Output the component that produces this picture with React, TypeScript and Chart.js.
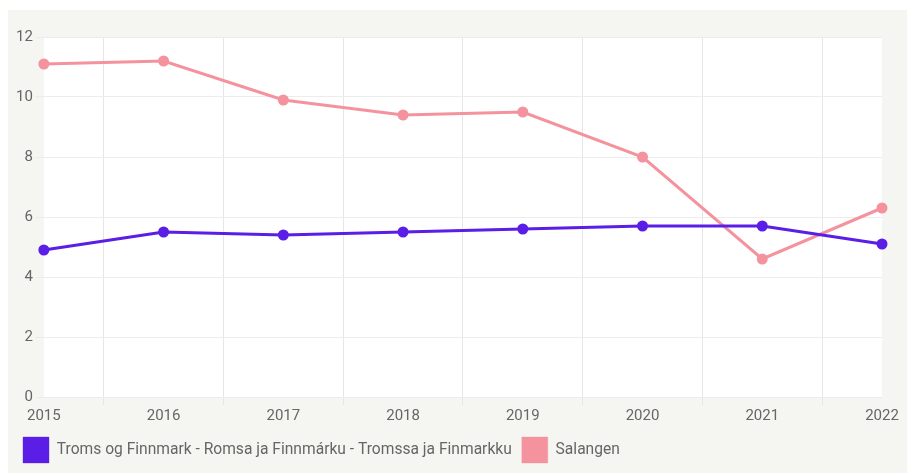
import React, { useEffect, useRef } from "react";
import { Chart, registerables } from "chart.js";

Chart.register(...registerables);

const years = ["2015", "2016", "2017", "2018", "2019", "2020", "2021", "2022"];
const tromsValues = [4.9, 5.5, 5.4, 5.5, 5.6, 5.7, 5.7, 5.1];
const salangenValues = [11.1, 11.2, 9.9, 9.4, 9.5, 8.0, 4.6, 6.3];
const seriesNames = ["Troms og Finnmark - Romsa ja Finnmárku - Tromssa ja Finmarkku", "Salangen"];

const plotBg = {
  id: "plotBg",
  beforeDraw(chart: any) {
    const { ctx, chartArea } = chart;
    ctx.save();
    ctx.fillStyle = "#ffffff";
    ctx.fillRect(chartArea.left, chartArea.top, chartArea.right - chartArea.left, chartArea.bottom - chartArea.top);
    ctx.restore();
  },
};

export default function App() {
  const ref = useRef<HTMLCanvasElement>(null);
  useEffect(() => {
    document.documentElement.style.overflow = "hidden";
    document.body.style.overflow = "hidden";
    if (!ref.current) return;
    const chart = new Chart(ref.current, {
      type: "line",
      data: {
        labels: years,
        datasets: [
          {
            label: seriesNames[0],
            data: tromsValues,
            borderColor: "#5a1ee6",
            backgroundColor: "#5a1ee6",
            pointBackgroundColor: "#5a1ee6",
            pointBorderColor: "#5a1ee6",
            borderWidth: 3,
            pointRadius: 4,
            tension: 0,
          },
          {
            label: seriesNames[1],
            data: salangenValues,
            borderColor: "#f4939e",
            backgroundColor: "#f4939e",
            pointBackgroundColor: "#f4939e",
            pointBorderColor: "#f4939e",
            borderWidth: 3,
            pointRadius: 4,
            tension: 0,
          },
        ],
      },
      options: {
        animation: false,
        responsive: true,
        maintainAspectRatio: false,
        layout: { padding: { top: 27, left: 5, right: 25, bottom: 0 } },
        plugins: {
          legend: {
            position: "bottom",
            align: "start",
            labels: {
              boxWidth: 26,
              boxHeight: 26,
              color: "#666666",
              font: { family: "Roboto", size: 15.6 },
              padding: 10,
              generateLabels: (c: any) =>
                c.data.datasets.map((d: any, i: number) => ({
                  text: d.label,
                  fillStyle: d.borderColor,
                  strokeStyle: d.borderColor + "55",
                  lineWidth: 1,
                  datasetIndex: i,
                  hidden: false,
                  fontColor: "#666666",
                })),
            },
          },
          tooltip: { enabled: false },
        },
        scales: {
          x: {
            offset: false,
            grid: { offset: true, color: "#e6e6e6", tickLength: 8 },
            border: { display: false },
            ticks: { color: "#666666", font: { family: "Roboto", size: 15 }, maxRotation: 0, padding: 2 },
          },
          y: {
            min: 0,
            max: 12,
            grid: { color: "#ececec", tickLength: 8 },
            border: { display: false },
            ticks: { stepSize: 2, color: "#666666", font: { family: "Roboto", size: 15 }, padding: 3 },
          },
        },
      },
      plugins: [plotBg],
    });
    return () => chart.destroy();
  }, []);
  return (
    <div style={{ position: "absolute", left: 8, top: 10, width: 899, height: 463, background: "#f5f5f1" }}>
      <canvas ref={ref} />
    </div>
  );
}
